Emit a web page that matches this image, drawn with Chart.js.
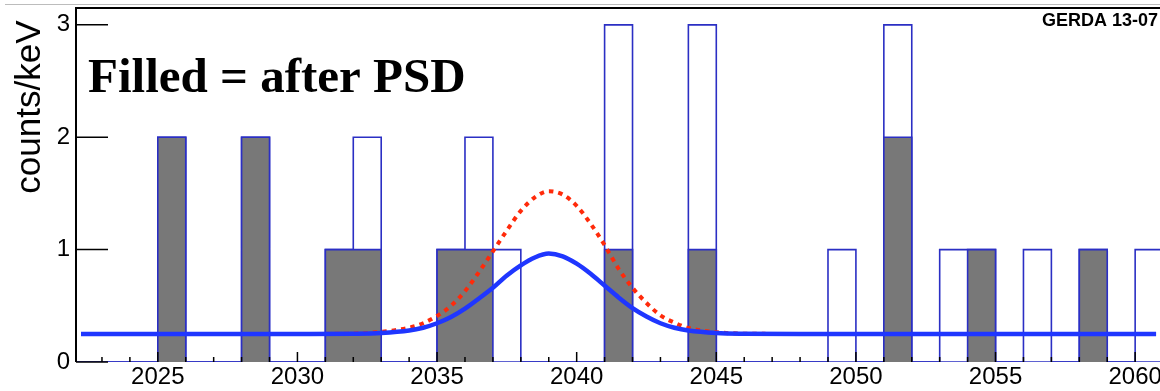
<!DOCTYPE html>
<html>
<head>
<meta charset="utf-8">
<script src="https://cdn.jsdelivr.net/npm/chart.js@4.4.1/dist/chart.umd.min.js"></script>
<style>
  html, body { margin: 0; padding: 0; background: #fff; }
  #wrap { position: relative; width: 1160px; height: 391px; overflow: hidden; }
  #padLine { position: absolute; top: 4px; left: 5px; right: 0; height: 1px; background: #bcbcbc; }
  canvas { position: absolute; left: 0; top: 0; }
</style>
</head>
<body>
<div id="wrap">
  <div id="padLine"></div>
  <canvas id="spectrum" width="1200" height="391"></canvas>
</div>
<script>
// Bordes inferiores de los bins (1 keV) y último borde
const binEdges = [2022, 2023, 2024, 2025, 2026, 2027, 2028, 2029, 2030, 2031,
                  2032, 2033, 2034, 2035, 2036, 2037, 2038, 2039, 2040, 2041,
                  2042, 2043, 2044, 2045, 2046, 2047, 2048, 2049, 2050, 2051,
                  2052, 2053, 2054, 2055, 2056, 2057, 2058, 2059, 2060, 2061, 2062];

// Cuentas antes del PSD (histograma vacío)
const countsBefore = [0, 0, 0, 2, 0, 0, 2, 0, 0, 1,
                      2, 0, 0, 1, 2, 1, 0, 0, 0, 3,
                      0, 0, 3, 0, 0, 0, 0, 1, 0, 3,
                      0, 1, 1, 0, 1, 0, 1, 0, 1, 0];

// Cuentas después del PSD (histograma relleno)
const countsAfter = [0, 0, 0, 2, 0, 0, 2, 0, 0, 1,
                     1, 0, 0, 1, 1, 0, 0, 0, 0, 1,
                     0, 0, 1, 0, 0, 0, 0, 0, 0, 2,
                     0, 0, 1, 0, 0, 0, 1, 0, 0, 0];

// Ajuste (línea azul continua)
const fitX = [2022.25, 2030, 2032, 2033, 2034, 2034.5, 2035, 2035.5, 2036, 2036.5,
              2037, 2037.5, 2038, 2038.5, 2039, 2039.5, 2040, 2040.5, 2041, 2041.5,
              2042, 2042.5, 2043, 2043.5, 2044, 2045, 2046, 2048, 2060.75];
const fitY = [0.25, 0.25, 0.252, 0.258, 0.28, 0.305, 0.345, 0.40, 0.475, 0.565,
              0.66, 0.77, 0.86, 0.93, 0.965, 0.94, 0.875, 0.785, 0.68, 0.575,
              0.48, 0.405, 0.345, 0.305, 0.28, 0.258, 0.252, 0.25, 0.25];

// Curva punteada roja
const dotX = [2031, 2032, 2033, 2033.5, 2034, 2034.5, 2035, 2035.5, 2036, 2036.5,
              2037, 2037.5, 2038, 2038.5, 2039, 2039.5, 2040, 2040.5, 2041, 2041.5,
              2042, 2042.5, 2043, 2043.5, 2044, 2045, 2046, 2047];
const dotY = [0.25, 0.253, 0.268, 0.283, 0.305, 0.345, 0.41, 0.50, 0.63, 0.80,
              0.985, 1.17, 1.345, 1.465, 1.52, 1.49, 1.39, 1.23, 1.04, 0.83,
              0.66, 0.525, 0.415, 0.35, 0.303, 0.265, 0.252, 0.25];

// Ticks
const xTicksMinor = [2023, 2024, 2025, 2026, 2027, 2028, 2029, 2030, 2031, 2032,
                     2033, 2034, 2035, 2036, 2037, 2038, 2039, 2040, 2041, 2042,
                     2043, 2044, 2045, 2046, 2047, 2048, 2049, 2050, 2051, 2052,
                     2053, 2054, 2055, 2056, 2057, 2058, 2059, 2060, 2061, 2062];
const xTicksMajor = [2025, 2030, 2035, 2040, 2045, 2050, 2055, 2060];
const yTicks = [0, 1, 2, 3];

const histPoints = counts => binEdges.map((e, i) => ({ x: e, y: i < counts.length ? counts[i] : 0 }));
const curvePoints = (xs, ys) => xs.map((x, i) => ({ x: x, y: ys[i] }));

// Quitar el relleno que Chart.js reserva para las etiquetas extremas
const noEdgePadding = s => {
    s.paddingTop = 0; s.paddingBottom = 0;
    s.paddingLeft = 0; s.paddingRight = 0;
};

// Plugin: marco, ticks internos y textos estilo ROOT
const rootStyle = {
    id: 'rootStyle',
    afterDatasetsDraw(chart) {
        const { ctx, chartArea: a, scales: { x, y } } = chart;
        ctx.save();
        ctx.strokeStyle = '#000';
        ctx.lineWidth = 1.5;
        ctx.beginPath();
        xTicksMinor.forEach(v => {
            const px = x.getPixelForValue(v);
            const len = xTicksMajor.includes(v) ? 10 : 5;
            ctx.moveTo(px, a.bottom);
            ctx.lineTo(px, a.bottom - len);
        });
        yTicks.forEach(v => {
            const py = y.getPixelForValue(v);
            ctx.moveTo(a.left, py);
            ctx.lineTo(a.left + 32, py);
        });
        ctx.stroke();

        ctx.lineWidth = 2;
        ctx.beginPath();
        ctx.moveTo(a.left, a.bottom);
        ctx.lineTo(a.left, a.top);
        ctx.lineTo(a.right, a.top);
        ctx.stroke();
        ctx.restore();
    },
    afterDraw(chart) {
        const { ctx } = chart;
        ctx.save();
        ctx.fillStyle = '#000';
        ctx.textBaseline = 'alphabetic';
        ctx.font = 'bold 49px "Liberation Serif", "Times New Roman", serif';
        ctx.fillText('Filled = after PSD', 88, 92);
        ctx.font = 'bold 18px "Liberation Sans", Arial, sans-serif';
        ctx.fillText('GERDA 13-07', 1042, 25.5);

        ctx.translate(40, 20.5);
        ctx.rotate(-Math.PI / 2);
        ctx.textAlign = 'right';
        ctx.font = '35px "Liberation Sans", Arial, sans-serif';
        ctx.fillText('counts/keV', 0, 0);
        ctx.restore();
    }
};

const ctx = document.getElementById('spectrum').getContext('2d');
new Chart(ctx, {
    type: 'line',
    data: {
        datasets: [
            {
                label: 'fit',
                data: curvePoints(fitX, fitY),
                borderColor: '#1f36ff',
                borderWidth: 4.5,
                pointRadius: 0,
                fill: false,
                cubicInterpolationMode: 'monotone'
            },
            {
                label: 'dotted',
                data: curvePoints(dotX, dotY),
                borderColor: '#ff2a0a',
                borderWidth: 4,
                borderDash: [4.5, 5],
                pointRadius: 0,
                fill: false,
                cubicInterpolationMode: 'monotone'
            },
            {
                label: 'after PSD',
                data: histPoints(countsAfter),
                stepped: 'before',
                borderColor: '#2b2fc4',
                borderWidth: 1.6,
                backgroundColor: '#787878',
                pointRadius: 0,
                fill: 'origin'
            },
            {
                label: 'before PSD',
                data: histPoints(countsBefore),
                stepped: 'before',
                borderColor: '#2b2fc4',
                borderWidth: 1.6,
                pointRadius: 0,
                fill: false
            }
        ]
    },
    options: {
        responsive: false,
        animation: false,
        layout: { padding: { left: 0, top: 8, right: 9, bottom: 0 } },
        plugins: {
            legend: { display: false },
            tooltip: { enabled: false }
        },
        scales: {
            x: {
                type: 'linear',
                min: 2022.07,
                max: 2062,
                afterBuildTicks: s => { s.ticks = xTicksMajor.map(v => ({ value: v })); },
                afterFit: s => { s.height = 29; noEdgePadding(s); },
                grid: { display: false, drawTicks: false },
                border: { display: false },
                ticks: {
                    autoSkip: false,
                    maxRotation: 0,
                    padding: 1,
                    color: '#000',
                    font: { family: '"Liberation Sans", Arial, sans-serif', size: 24 },
                    callback: v => String(v)
                }
            },
            y: {
                min: 0,
                max: 3.15,
                afterBuildTicks: s => { s.ticks = yTicks.map(v => ({ value: v })); },
                afterFit: s => { s.width = 76; noEdgePadding(s); },
                grid: { display: false, drawTicks: false },
                border: { display: false },
                ticks: {
                    padding: 6,
                    color: '#000',
                    font: { family: '"Liberation Sans", Arial, sans-serif', size: 24 },
                    callback: v => String(v)
                }
            }
        }
    },
    plugins: [rootStyle]
});
</script>
</body>
</html>
